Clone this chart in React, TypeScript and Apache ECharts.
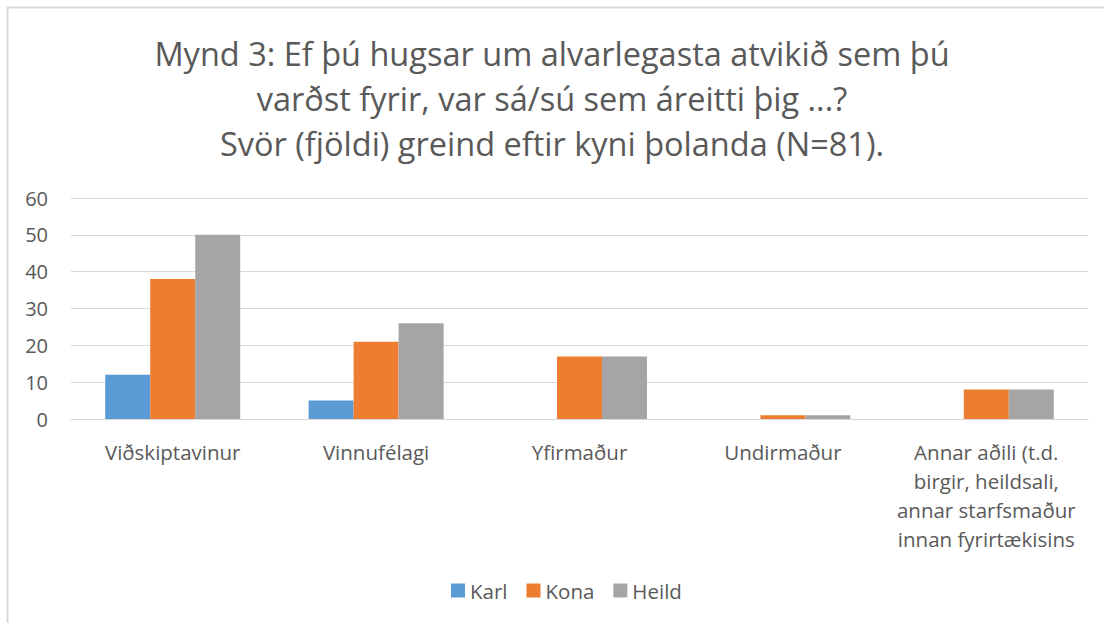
import React, { useEffect, useRef } from "react";
import * as echarts from "echarts";

const categories = [
  "Viðskiptavinur",
  "Vinnufélagi",
  "Yfirmaður",
  "Undirmaður",
  "Annar aðili (t.d.\nbirgir, heildsali,\nannar starfsmaður\ninnan fyrirtækisins",
];
const karl = [12, 5, 0, 0, 0];
const kona = [38, 21, 17, 1, 8];
const heild = [50, 26, 17, 1, 8];
const seriesNames = ["Karl", "Kona", "Heild"];
const colors = ["#5B9BD5", "#ED7D31", "#A5A5A5"];
const titleText =
  "Mynd 3: Ef þú hugsar um alvarlegasta atvikið sem þú\nvarðst fyrir, var sá/sú sem áreitti þig ...?\nSvör (fjöldi) greind eftir kyni þolanda (N=81).";

const FONT = "'Open Sans', sans-serif";

export default function App() {
  const ref = useRef<HTMLDivElement>(null);
  useEffect(() => {
    if (!ref.current) return;
    const chart = echarts.init(ref.current, null, { renderer: "svg" });
    const data = [karl, kona, heild];
    chart.setOption({
      animation: false,
      backgroundColor: "#ffffff",
      textStyle: { fontFamily: FONT },
      graphic: [
        {
          type: "rect",
          shape: { x: 7.5, y: 7.5, width: 1110, height: 630 },
          style: { fill: "none", stroke: "#d9d9d9", lineWidth: 2 },
          silent: true,
        },
      ],
      title: {
        text: titleText,
        left: "center",
        top: 26,
        textStyle: {
          fontFamily: FONT,
          fontSize: 32.5,
          fontWeight: "normal",
          color: "#595959",
          lineHeight: 45,
          align: "center",
        },
      },
      legend: {
        bottom: 17,
        left: 446,
        itemWidth: 14,
        itemHeight: 14,
        itemGap: 19,
        icon: "rect",
        textStyle: { fontFamily: FONT, fontSize: 20.5, color: "#595959" },
        data: seriesNames,
      },
      grid: { left: 71, right: 16, top: 198, bottom: 204, containLabel: false },
      xAxis: {
        type: "category",
        data: categories,
        axisLine: { lineStyle: { color: "#d9d9d9", width: 1 } },
        axisTick: { show: false },
        axisLabel: {
          interval: 0,
          fontFamily: FONT,
          fontSize: 20.5,
          color: "#595959",
          lineHeight: 29,
          margin: 18,
          align: "center",
        },
      },
      yAxis: {
        type: "value",
        min: 0,
        max: 60,
        interval: 10,
        axisLine: { show: false },
        axisTick: { show: false },
        splitLine: { lineStyle: { color: "#d9d9d9", width: 1 } },
        axisLabel: { fontFamily: FONT, fontSize: 20, color: "#595959", margin: 23 },
      },
      series: seriesNames.map((name, i) => ({
        name,
        type: "bar",
        data: data[i],
        barWidth: 45,
        barGap: "0%",
        itemStyle: { color: colors[i] },
      })),
    });
    return () => chart.dispose();
  }, []);
  return (
    <div
      ref={ref}
      style={{ position: "fixed", left: 0, top: 0, width: 1104, height: 623 }}
    />
  );
}
